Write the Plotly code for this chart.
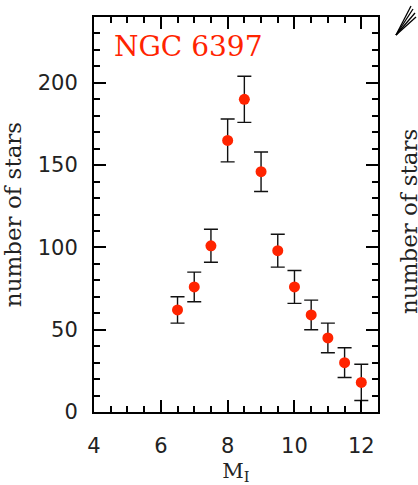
import plotly.graph_objects as go

# Data
mag = [6.5, 7.0, 7.5, 8.0, 8.5, 9.0, 9.5, 10.0, 10.5, 11.0, 11.5, 12.0]
counts = [62, 76, 101, 165, 190, 146, 98, 76, 59, 45, 30, 18]
errors = [8, 9, 10, 13, 14, 12, 10, 10, 9, 9, 9, 11]

W, H = 418, 485
L, R, T, B = 94, 378, 17, 412

fig = go.Figure()
fig.add_trace(go.Scatter(
    x=mag, y=counts, mode="markers",
    marker=dict(color="#ff2400", size=11, line=dict(width=0)),
    error_y=dict(type="data", array=errors, visible=True, color="#111111",
                 thickness=1.4, width=7),
    showlegend=False, cliponaxis=False,
))

axis_common = dict(
    showline=True, linecolor="black", linewidth=2, mirror="ticks",
    ticks="inside", ticklen=12, tickwidth=1.5, tickcolor="black",
    showgrid=False, zeroline=False, automargin=False,
    tickfont=dict(family="DejaVu Sans", size=21, color="#222222"),
)

fig.update_xaxes(range=[4, 12.5], dtick=2, tick0=4,
                 minor=dict(ticks="inside", ticklen=6, dtick=0.5, tick0=4,
                            tickwidth=1.5, tickcolor="black", showgrid=False),
                 ticklabelstandoff=14,
                 title=dict(text="M<sub>I</sub>", standoff=8,
                            font=dict(family="DejaVu Serif", size=21, color="#222222")),
                 **axis_common)
fig.update_yaxes(range=[0, 240], dtick=50, tick0=0,
                 minor=dict(ticks="inside", ticklen=6, dtick=10, tick0=0,
                            tickwidth=1.5, tickcolor="black", showgrid=False),
                 ticklabelstandoff=10,
                 title=dict(text="number of stars", standoff=14,
                            font=dict(family="DejaVu Serif", size=23, color="#222222")),
                 **axis_common)

def px(x):
    return (x - L) / (R - L)

def py(y):
    return (B - y) / (B - T)

annotations = [
    dict(text="NGC 6397", x=px(112), y=py(47), xref="paper", yref="paper",
         xanchor="left", yanchor="middle", showarrow=False,
         font=dict(family="DejaVu Serif", size=28, color="#ff2400")),
    dict(text="number of stars", x=px(409), y=py(222), xref="paper", yref="paper",
         xanchor="center", yanchor="middle", textangle=-90, showarrow=False,
         font=dict(family="DejaVu Serif", size=23, color="#222222")),
]

shapes = []
for ex, ey in [(411, 6), (413, 9), (415, 13), (416, 17)]:
    shapes.append(dict(type="line", xref="paper", yref="paper",
                       x0=px(396), y0=py(35), x1=px(ex), y1=py(ey),
                       line=dict(color="black", width=1.3)))

fig.update_layout(
    width=W, height=H,
    margin=dict(l=L, r=W - R, t=T, b=H - B, autoexpand=False),
    plot_bgcolor="white", paper_bgcolor="white",
    annotations=annotations, shapes=shapes,
)

fig.write_html("out.html")
